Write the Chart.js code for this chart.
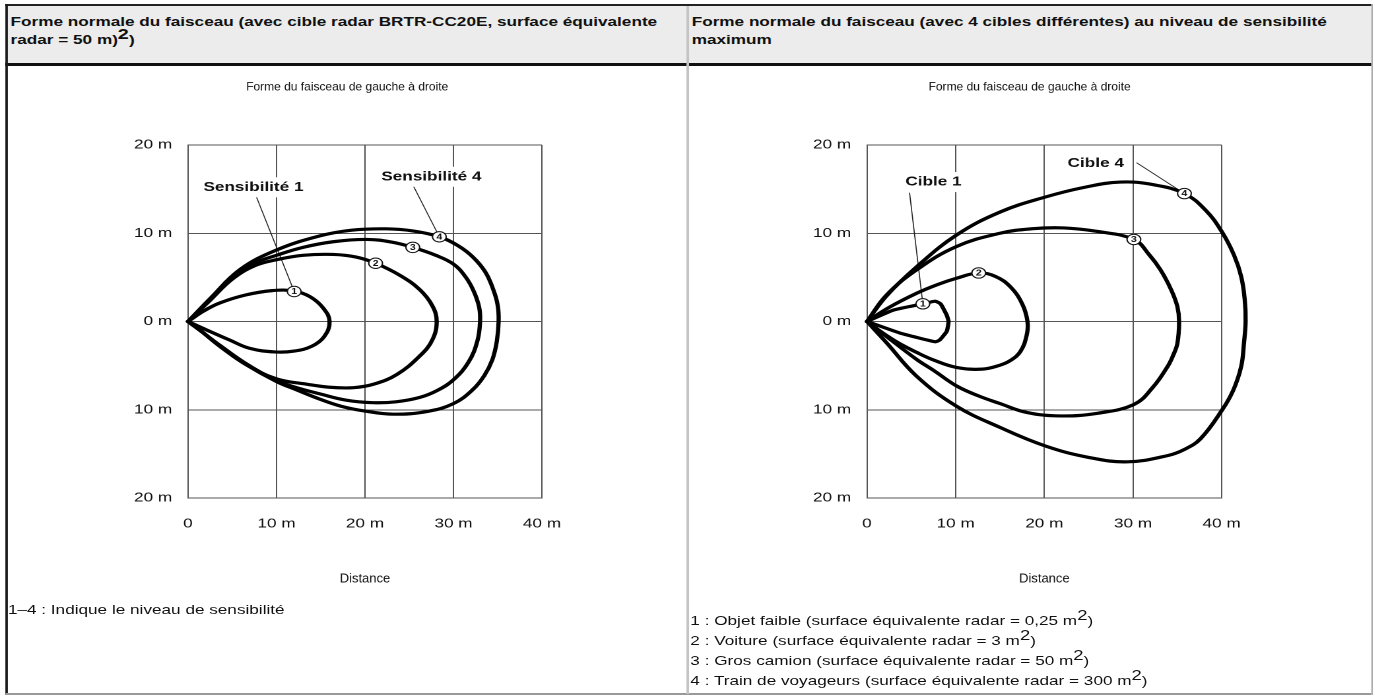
<!DOCTYPE html>
<html><head><meta charset="utf-8">
<script src="https://cdn.jsdelivr.net/npm/chart.js@4.4.1/dist/chart.umd.min.js"></script>
<style>
html,body{margin:0;padding:0;background:#fff;overflow:hidden;width:1375px;height:696px;}
#wrap{position:absolute;left:0;top:0;width:1041.67px;height:696px;transform:scaleX(1.32);transform-origin:0 0;font-family:"Liberation Sans",Arial,sans-serif;color:#111;}
.abs{position:absolute;}
.hdr{font-weight:bold;font-size:13px;line-height:18px;width:505px;}
.hdr sup{font-size:15px;line-height:0;vertical-align:5px;}
.leg{font-size:13px;white-space:nowrap;}
.leg sup{font-size:14px;line-height:0;vertical-align:5px;}
canvas{position:absolute;}
</style></head><body>
<div id="wrap">
  <div class="abs" style="left:6px;top:6px;width:1033px;height:57px;background:#ececec"></div>
  <div class="abs" style="left:4px;top:4px;width:1035px;height:2px;background:#222"></div>
  <div class="abs" style="left:4px;top:63px;width:1035px;height:3px;background:#111"></div>
  <div class="abs" style="left:4px;top:4px;width:2px;height:691px;background:#1a1a1a"></div>
  <div class="abs" style="left:1038.5px;top:4px;width:1px;height:691px;background:#999"></div>
  <div class="abs" style="left:4px;top:693px;width:1035px;height:2px;background:#999"></div>
  <div class="abs" style="left:520px;top:6px;width:1.5px;height:688px;background:#c4c4c4"></div>
  <div class="abs hdr" style="left:8px;top:13px">Forme normale du faisceau (avec cible radar BRTR-CC20E, surface équivalente radar = 50 m)<sup>2</sup>)</div>
  <div class="abs hdr" style="left:524px;top:13px">Forme normale du faisceau (avec 4 cibles différentes) au niveau de sensibilité maximum</div>
  <canvas id="c1" width="514" height="530" style="left:6px;top:66px"></canvas>
  <canvas id="c2" width="516" height="530" style="left:522px;top:66px"></canvas>
  <div id="legL" class="abs leg" style="left:6px;top:601px;line-height:18px"></div>
  <div id="legR" class="abs leg" style="left:523px;top:611px;line-height:20px"></div>
</div>
<script>
const FONT = '"Liberation Sans", Arial, sans-serif';
const STRETCH = 1.32;
const xTickValues = [0, 10, 20, 30, 40];
const yTickValues = [-20, -10, 0, 10, 20];
const chartTitle = 'Forme du faisceau de gauche à droite';
const axisTitle = 'Distance';

// Left chart: sensitivity levels 1..4 (x m, y m)
const sens1 = [[0,0],[1.8,1.2],[3.6,2.1],[6.5,3.0],[9.5,3.5],[12,3.45],[13.8,2.8],[15.3,1.5],[16,0],[15.4,-1.7],[14,-2.8],[12,-3.35],[9.8,-3.45],[7,-3.05],[4.7,-2.1],[2.2,-1.0],[0,0]];
const sens2 = [[0,0],[2.5,2.4],[5,4.8],[7.5,6.3],[10,7.0],[13,7.5],[16.4,7.6],[19,7.3],[21.2,6.6],[24,5.2],[26.2,3.6],[27.6,1.8],[28.1,0],[27.6,-2.1],[26.2,-3.9],[23.6,-6.0],[21,-7.1],[18.7,-7.5],[16,-7.45],[13.4,-7.1],[10,-6.5],[6.6,-4.9],[3.6,-2.8],[1.5,-1.1],[0,0]];
const sens3 = [[0,0],[2.5,2.5],[5,5.0],[7.5,6.6],[10,7.5],[13,8.4],[16.5,9.05],[20.2,9.3],[23,9.0],[25.4,8.4],[28,7.5],[30,6.5],[31.4,5.0],[32.3,3.4],[32.9,1.6],[33,0],[32.7,-2.2],[31.7,-4.6],[30,-6.6],[28.2,-7.8],[26.2,-8.6],[23.5,-9.1],[20.9,-9.2],[17.8,-8.9],[14.9,-8.2],[12.3,-7.5],[10,-6.7],[6.6,-4.8],[3.6,-2.7],[1.5,-1.1],[0,0]];
const sens4 = [[0,0],[2.5,2.6],[5.9,5.9],[10,8.1],[14.9,9.7],[18.5,10.35],[22.4,10.5],[25.5,10.25],[28.4,9.6],[30.5,8.6],[32.2,7.3],[33.6,5.6],[34.5,3.6],[35,1.8],[35.1,0],[34.9,-2.2],[34.4,-4.3],[33.5,-6.1],[32.2,-7.7],[30,-9.3],[27,-10.2],[23.2,-10.5],[20,-10.15],[17.3,-9.6],[14.9,-8.8],[12.4,-7.8],[10,-6.8],[6.6,-4.9],[3.6,-2.8],[1.5,-1.1],[0,0]];
const sensMarkers = [[12.0,3.4],[21.2,6.6],[25.4,8.4],[28.4,9.6]];
const sensLabels = ['Sensibilité 1', 'Sensibilité 4'];
const sensLabelAt = [[7.4,15.2],[27.5,16.4]];
const sensLeaders = [[[7.7,14.2],[12.0,3.4]], [[25.5,15.3],[28.4,9.6]]];

// Right chart: four targets (x m, y m)
const target1 = [[0,0],[3,1.3],[6.3,2.0],[7.7,2.3],[8.3,2.0],[9.0,0.7],[9.2,0],[9.0,-1.1],[8.2,-2.1],[7.7,-2.3],[3.7,-1.3],[0,0]];
const target2 = [[0,0],[2.5,1.6],[5.6,3.2],[8,4.2],[10.1,4.9],[12.6,5.5],[14.5,5.1],[16.2,3.9],[17.5,2.0],[18.1,0],[18.0,-1.6],[17.3,-3.4],[16.2,-4.4],[15,-4.95],[13,-5.4],[10.1,-5.2],[7.6,-4.4],[5.6,-3.5],[3.5,-2.4],[1.5,-1.1],[0,0]];
const target3 = [[0,0],[2.2,3.0],[5.6,5.85],[10.1,8.5],[15,10.0],[18.5,10.5],[22.2,10.6],[26,10.2],[30.1,9.3],[31.8,7.6],[33.1,5.85],[34.3,3.6],[35,1.7],[35.2,0],[35.0,-2.5],[34.5,-3.9],[33.9,-5.1],[32.2,-7.5],[30.1,-9.4],[26,-10.4],[21.8,-10.7],[18,-10.3],[15,-9.3],[12.5,-8.4],[10.1,-7.3],[7.6,-5.6],[5.6,-4.3],[2.2,-1.7],[0,0]];
const target4 = [[0,0],[2.2,2.9],[5.6,6.2],[10.1,9.8],[15,12.4],[20.1,14.1],[24.5,15.2],[28.6,15.8],[32.3,15.5],[35.8,14.5],[38.2,12.6],[40,10.2],[41.4,7.5],[42.2,5.1],[42.6,2.5],[42.7,0],[42.5,-2.6],[42.2,-5.1],[41.3,-7.8],[40,-10.1],[37.6,-13.3],[35.8,-14.5],[33.9,-15.2],[29.4,-15.9],[25,-15.4],[20.1,-14.1],[15,-12],[10.1,-9.6],[5.6,-6.2],[2.2,-2.4],[0,0]];
const targetMarkers = [[6.3,2.0],[12.6,5.5],[30.1,9.3],[35.8,14.5]];
const targetLabels = ['Cible 1', 'Cible 4'];
const targetLabelAt = [[7.5,15.8],[25.8,17.9]];
const targetLeaders = [[[4.8,14.6],[6.3,2.0]], [[30.4,18.0],[35.8,14.5]]];

const markerNumbers = ['1', '2', '3', '4'];
const sensNote = '1–4 : Indique le niveau de sensibilité';
const targetNames = ['Objet faible', 'Voiture', 'Gros camion', 'Train de voyageurs'];
const targetRcs = ['0,25', '3', '50', '300'];

document.getElementById('legL').textContent = sensNote;
document.getElementById('legR').innerHTML = targetNames.map((n, i) =>
  `${i + 1} : ${n} (surface équivalente radar = ${targetRcs[i]} m<sup>2</sup>)`).join('<br>');

// text drawn without the page's horizontal stretch
function plainText(ctx, t, x, y, font) {
  ctx.save();
  ctx.translate(x, y);
  ctx.scale(1 / STRETCH, 1);
  ctx.font = font;
  ctx.fillStyle = '#111';
  ctx.textAlign = 'center'; ctx.textBaseline = 'middle';
  ctx.fillText(t, 0, 0);
  ctx.restore();
}

const overlay = {
  id: 'overlay',
  beforeDatasetsDraw(chart) {
    const o = chart.options.plugins.overlay;
    const {ctx, chartArea} = chart, sx = chart.scales.x, sy = chart.scales.y;
    ctx.save();
    plainText(ctx, chartTitle, chart.width / 2, chartArea.top - 58, '12px ' + FONT);
    plainText(ctx, axisTitle, (chartArea.left + chartArea.right) / 2, chartArea.bottom + 81, '13px ' + FONT);
    ctx.strokeStyle = '#222'; ctx.lineWidth = 0.8;
    o.leaders.forEach(([a, b]) => {
      ctx.beginPath();
      ctx.moveTo(sx.getPixelForValue(a[0]), sy.getPixelForValue(a[1]));
      ctx.lineTo(sx.getPixelForValue(b[0]), sy.getPixelForValue(b[1]));
      ctx.stroke();
    });
    ctx.font = 'bold 13px ' + FONT;
    ctx.textAlign = 'center'; ctx.textBaseline = 'middle';
    o.labels.forEach((t, i) => {
      const px = sx.getPixelForValue(o.labelAt[i][0]), py = sy.getPixelForValue(o.labelAt[i][1]);
      const w = ctx.measureText(t).width;
      ctx.fillStyle = '#fff';
      ctx.fillRect(px - w / 2 - 3, py - 10, w + 6, 20);
      ctx.fillStyle = '#111';
      ctx.fillText(t, px, py);
    });
    ctx.restore();
  },
  afterDatasetsDraw(chart) {
    const o = chart.options.plugins.overlay;
    const {ctx} = chart, sx = chart.scales.x, sy = chart.scales.y;
    ctx.save();
    ctx.font = 'bold 8px ' + FONT;
    ctx.fillStyle = '#111';
    ctx.textAlign = 'center'; ctx.textBaseline = 'middle';
    o.markers.forEach((m, i) => {
      ctx.fillText(markerNumbers[i], sx.getPixelForValue(m[0]), sy.getPixelForValue(m[1]) + 0.5);
    });
    ctx.restore();
  }
};

function makeChart(id, curves, tensions, markers, labels, labelAt, leaders, yWidth, padRight) {
  const datasets = [{
    data: markers.map(p => ({x: p[0], y: p[1]})),
    showLine: false, pointRadius: 5.2, pointStyle: 'circle',
    pointBackgroundColor: '#fff', pointBorderColor: '#111', pointBorderWidth: 1,
    order: 0, clip: false
  }];
  curves.forEach((c, i) => datasets.push({
    data: c.map(p => ({x: p[0], y: p[1]})),
    showLine: true, borderColor: '#000', borderWidth: 3.2, pointRadius: 0,
    tension: tensions[i], fill: false, order: 1, clip: false,
    borderJoinStyle: 'round', borderCapStyle: 'round'
  }));
  const tickFont = {family: FONT, size: 13};
  return new Chart(document.getElementById(id), {
    type: 'scatter',
    data: {datasets},
    plugins: [overlay],
    options: {
      responsive: false, animation: false, devicePixelRatio: 2,
      layout: {padding: {left: 0, right: padRight, top: 79, bottom: 11}},
      plugins: {
        legend: {display: false}, tooltip: {enabled: false}, title: {display: false},
        overlay: {markers, labels, labelAt, leaders}
      },
      scales: {
        x: {
          type: 'linear', min: 0, max: 40,
          afterBuildTicks: s => { s.ticks = xTickValues.map(v => ({value: v})); },
          afterFit: s => { s.height = 87; },
          ticks: {color: '#111', font: tickFont, padding: 18, maxRotation: 0, autoSkip: false,
            callback: v => v === 0 ? '0' : v + ' m'},
          grid: {color: '#555', lineWidth: 1, drawTicks: false},
          border: {color: '#555', width: 1}
        },
        y: {
          type: 'linear', min: -20, max: 20,
          afterBuildTicks: s => { s.ticks = yTickValues.map(v => ({value: v})); },
          afterFit: s => { s.width = yWidth; },
          ticks: {color: '#111', font: tickFont, padding: 12, autoSkip: false,
            callback: v => Math.abs(v) + ' m'},
          grid: {color: '#555', lineWidth: 1, drawTicks: false},
          border: {color: '#555', width: 1}
        }
      }
    }
  });
}

makeChart('c1', [sens1, sens2, sens3, sens4], [0.4, 0.4, 0.4, 0.4], sensMarkers,
  sensLabels, sensLabelAt, sensLeaders, 136.4, 109.4);
makeChart('c2', [target1, target2, target3, target4], [0.15, 0.4, 0.4, 0.4], targetMarkers,
  targetLabels, targetLabelAt, targetLeaders, 134.8, 112.5);
</script>
</body></html>
